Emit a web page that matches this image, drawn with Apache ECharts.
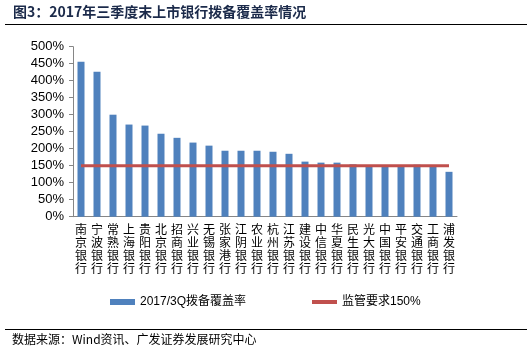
<!DOCTYPE html>
<html>
<head>
<meta charset="utf-8">
<script src="https://cdn.jsdelivr.net/npm/echarts@6/dist/echarts.min.js"></script>
<style>
html, body { margin: 0; padding: 0; background: #fff; }
#chart { width: 530px; height: 353px; }
</style>
</head>
<body>
<div id="chart"></div>
<script>
var banks = ['南京银行', '宁波银行', '常熟银行', '上海银行', '贵阳银行', '北京银行', '招商银行', '兴业银行',
    '无锡银行', '张家港行', '江阴银行', '农业银行', '杭州银行', '江苏银行', '建设银行', '中信银行',
    '华夏银行', '民生银行', '光大银行', '中国银行', '平安银行', '交通银行', '工商银行', '浦发银行'];
var coverage = [456, 426, 300, 271, 268, 244, 232, 218, 209, 194, 194, 194, 191, 185, 162, 159,
    159, 154, 152, 152, 152, 153, 148, 132];
var requirement = [150, 150, 150, 150, 150, 150, 150, 150, 150, 150, 150, 150, 150, 150, 150, 150,
    150, 150, 150, 150, 150, 150, 150, 150];

var chart = echarts.init(document.getElementById('chart'));

var option = {
    animation: false,
    textStyle: { fontFamily: 'Arial, "Liberation Sans", "Noto Sans CJK SC"' },
    graphic: [
        {
            type: 'text', left: 13, top: 5,
            style: {
                text: '图3：2017年三季度末上市银行拨备覆盖率情况',
                fill: '#1b2a4a', fontSize: 14, fontWeight: 'bold',
                fontFamily: '"Noto Sans CJK SC", sans-serif'
            }
        },
        { type: 'line', shape: { x1: 5, y1: 24.5, x2: 527, y2: 24.5 }, style: { stroke: '#000', lineWidth: 1 } },
        { type: 'line', shape: { x1: 5, y1: 329.5, x2: 527, y2: 329.5 }, style: { stroke: '#000', lineWidth: 1 } },
        {
            type: 'text', left: 12, top: 333,
            style: {
                text: '数据来源：Wind资讯、广发证券发展研究中心',
                fill: '#000', fontSize: 12,
                fontFamily: '"Noto Sans CJK SC", sans-serif'
            }
        }
    ],
    legend: [
        {
            left: 105, top: 291,
            itemWidth: 25, itemHeight: 6, itemGap: 4,
            textStyle: { fontSize: 12, color: '#000', fontFamily: 'Arial, "Noto Sans CJK SC"' },
            data: [{ name: '2017/3Q拨备覆盖率', icon: 'rect' }]
        },
        {
            left: 307, top: 291,
            itemWidth: 25, itemHeight: 4, itemGap: 4,
            textStyle: { fontSize: 12, color: '#000', fontFamily: 'Arial, "Noto Sans CJK SC"' },
            data: [{ name: '监管要求150%', icon: 'rect' }]
        }
    ],
    grid: { left: 73, right: 73, top: 46.7, bottom: 136.3, containLabel: false },
    xAxis: {
        type: 'category',
        data: banks,
        axisLine: { lineStyle: { color: '#868686' } },
        axisTick: { interval: 0, length: 4, lineStyle: { color: '#868686' } },
        axisLabel: {
            interval: 0, margin: 6, color: '#000', fontSize: 12, lineHeight: 13,
            fontFamily: '"Noto Sans CJK SC", sans-serif',
            formatter: function (v) { return v.split('').join('\n'); }
        }
    },
    yAxis: {
        type: 'value',
        min: 0, max: 500, interval: 50,
        axisLine: { show: true, lineStyle: { color: '#868686' } },
        axisTick: { show: true, length: 4, lineStyle: { color: '#868686' } },
        splitLine: { show: false },
        axisLabel: { formatter: '{value}%', color: '#000', fontSize: 13, margin: 9 }
    },
    series: [
        {
            name: '2017/3Q拨备覆盖率',
            type: 'bar',
            data: coverage,
            barWidth: 7,
            itemStyle: { color: '#4f81bd' }
        },
        {
            name: '监管要求150%',
            type: 'line',
            data: requirement,
            symbol: 'none',
            lineStyle: { color: '#c0504d', width: 3 },
            itemStyle: { color: '#c0504d' }
        }
    ]
};

chart.setOption(option);
</script>
</body>
</html>
